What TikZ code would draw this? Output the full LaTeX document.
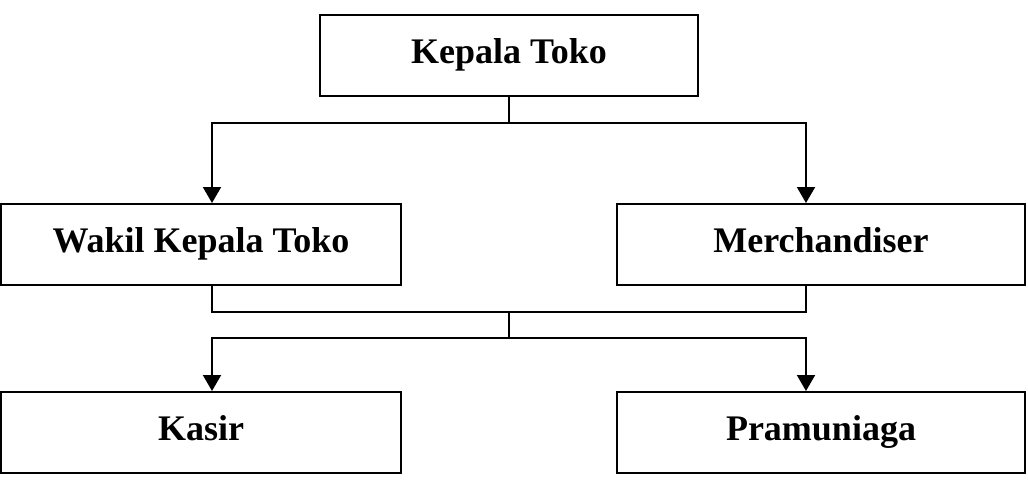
\documentclass[tikz,border=0pt]{standalone}
\usepackage{fontspec}
\setmainfont{Liberation Serif}
\usepackage{tikz}
\usetikzlibrary{arrows.meta,calc}

\begin{document}
\begin{tikzpicture}[x=0.025cm, y=-0.025cm, line width=1.4pt,
  jabatan/.style={draw, rectangle, minimum height=2.025cm, inner sep=0pt,
    font=\fontsize{25.6}{30}\selectfont\bfseries, text height=18pt, text depth=7pt},
  panah/.style={-{Triangle[length=0.4cm, width=0.45cm]}},
]
\useasboundingbox (0,0) rectangle (1028,486);
% Level 1
\node[jabatan, minimum width=9.45cm] (kepala) at (509,55.5) {Kepala Toko};
% Level 2
\node[jabatan, minimum width=10cm] (wakil) at (201,244.5) {Wakil Kepala Toko};
\node[jabatan, minimum width=10.2cm] (merch) at (821,244.5) {Merchandiser};
% Level 3
\node[jabatan, minimum width=10cm] (kasir) at (201,432.5) {Kasir};
\node[jabatan, minimum width=10.2cm] (pramu) at (821,432.5) {Pramuniaga};

% branch points
\coordinate (bL) at (212,123);
\coordinate (bR) at (806,123);
\coordinate (gab) at (509,312);
\coordinate (turun) at (509,338);

% Kepala Toko -> level 2
\draw (kepala.south) -- (kepala.south |- bL);
\draw[panah] (kepala.south |- bL) -| (bL |- wakil.north);
\draw[panah] (kepala.south |- bL) -| (bR |- merch.north);
% level 2 -> level 3
\draw (bL |- wakil.south) |- (bR |- gab) -- (bR |- merch.south);
\draw (gab) -- (turun);
\draw[panah] (turun) -| (bL |- kasir.north);
\draw[panah] (turun) -| (bR |- pramu.north);
\end{tikzpicture}
\end{document}
